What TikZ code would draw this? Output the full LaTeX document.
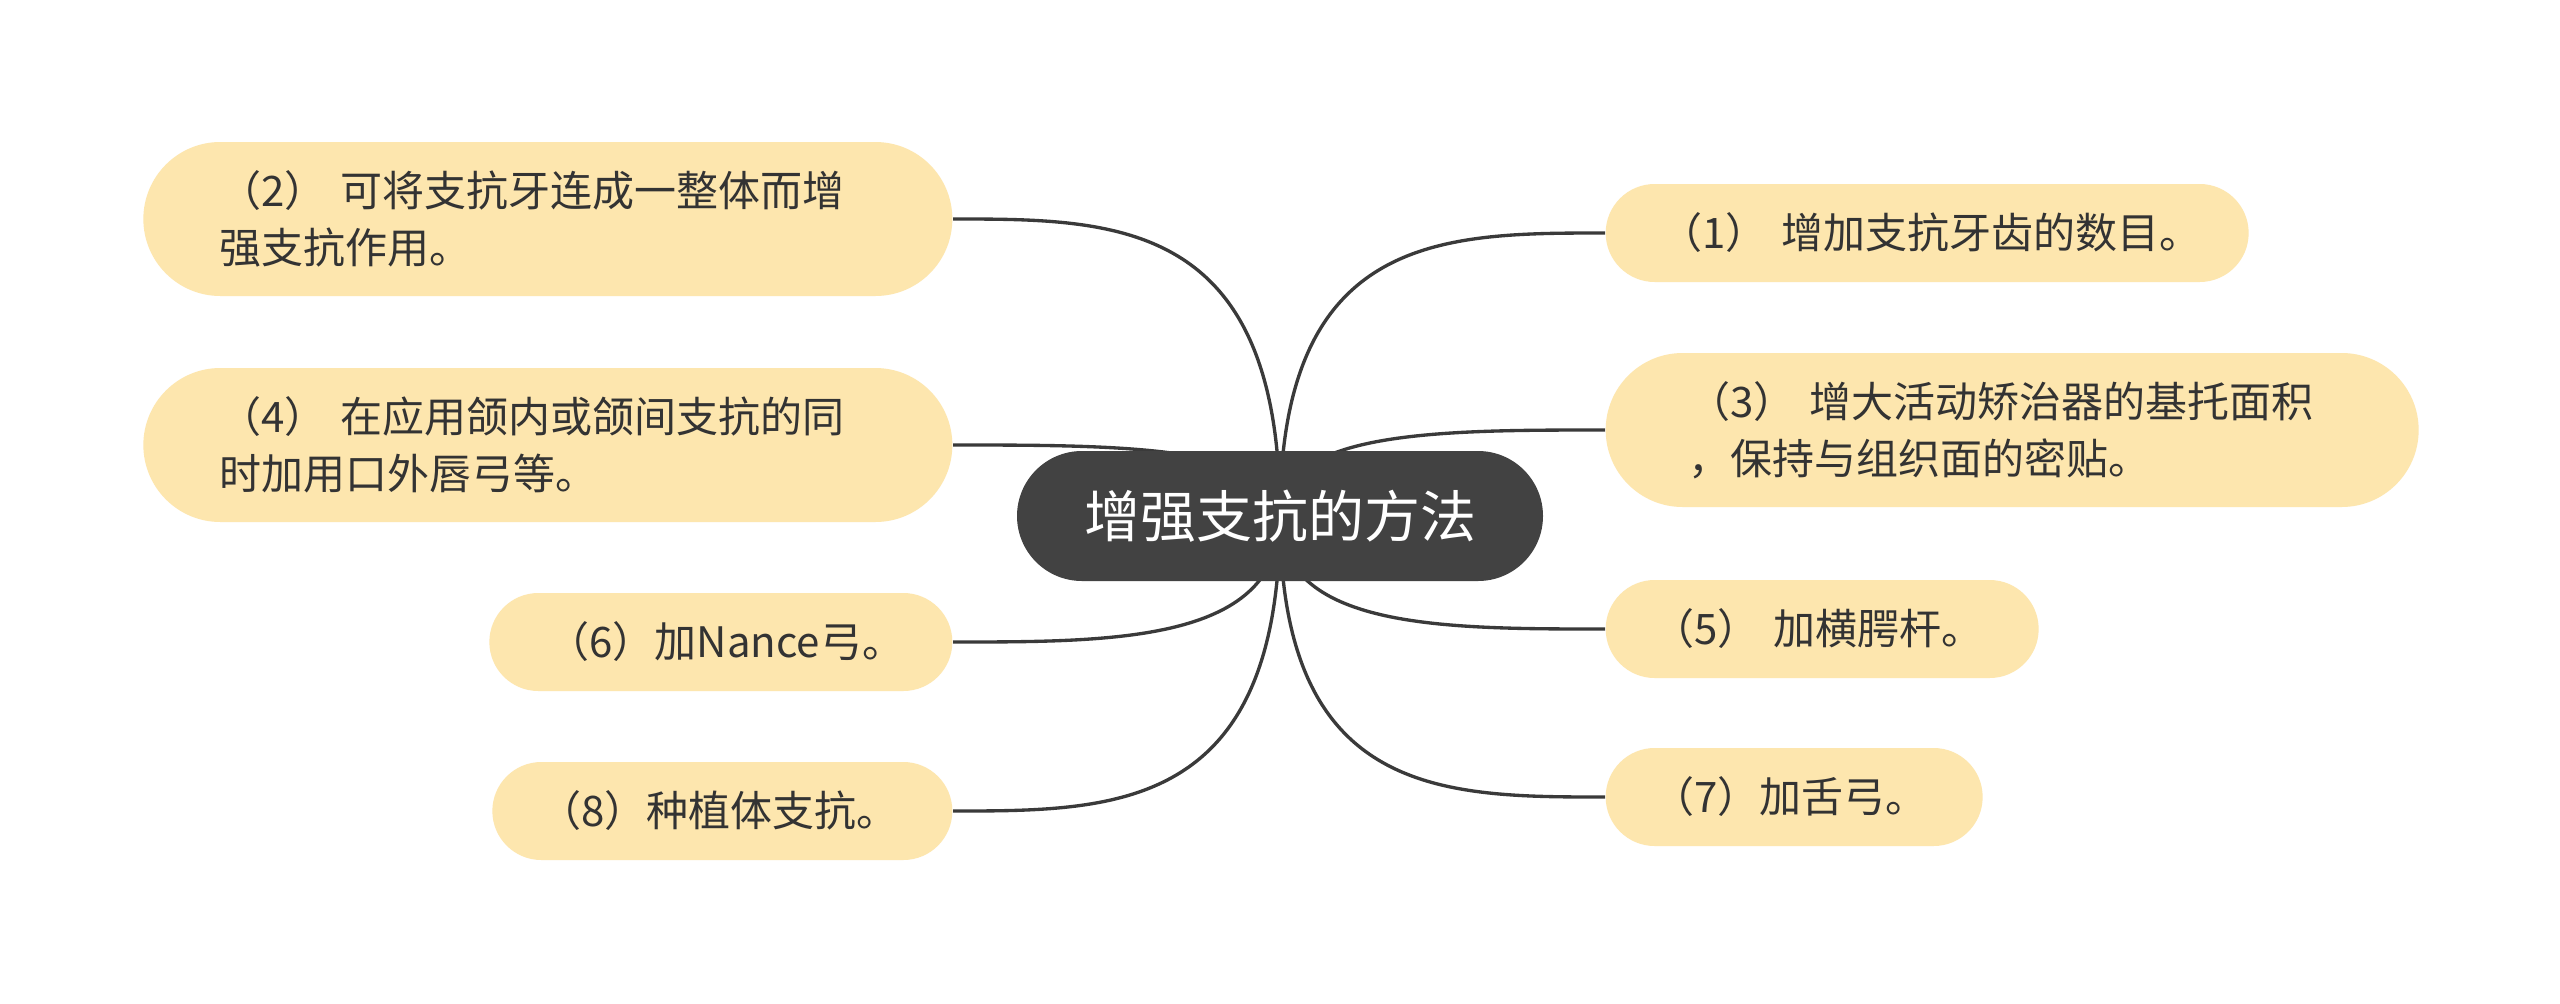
\documentclass[tikz,border=0pt]{standalone}
\usepackage{fontspec}
\newfontfamily\cjkfont{Noto Sans CJK SC}
\usetikzlibrary{calc,backgrounds}
\definecolor{leafbg}{HTML}{FDE6AE}
\definecolor{rootbg}{HTML}{424242}
\definecolor{linkcol}{HTML}{3A3A3A}
\definecolor{inkcol}{HTML}{333333}
\tikzset{
  leaf/.style={fill=leafbg, text=inkcol, align=left, inner ysep=0pt,
    font=\cjkfont\fontsize{12.6pt}{17.1pt}\selectfont},
  oneline/.style={leaf, minimum height=29.4pt, rounded corners=14.7pt},
  twoline/.style={leaf, minimum height=46.2pt, rounded corners=23.1pt},
  branch/.style={draw=linkcol, line width=1pt,
    to path={.. controls (\tikztostart |- \tikztotarget) and ($(\tikztostart |- \tikztotarget)!0.5!(\tikztotarget)$) .. (\tikztotarget)}}
}
\begin{document}
\begin{tikzpicture}[x=0.3pt,y=-0.3pt]
\useasboundingbox (0,0) rectangle (2560,1003);
\node[fill=rootbg, text=white, font=\cjkfont\fontsize{16.8pt}{20pt}\selectfont,
  minimum width=157.8pt, minimum height=39pt, rounded corners=19.5pt] (root) at (1280,516) {增强支抗的方法};
% right side
\node[oneline, anchor=west, inner xsep=16.5pt, text width=159.9pt] (b1) at (1605,233) {（1）~增加支抗牙齿的数目。};
\node[twoline, anchor=west, inner xsep=24.9pt, text width=194.1pt] (b3) at (1605,430) {（3）~增大活动矫治器的基托面积\\，保持与组织面的密贴。};
\node[oneline, anchor=west, inner xsep=14pt, text width=101.9pt] (b5) at (1605,629) {（5）~加横腭杆。};
\node[oneline, anchor=west, inner xsep=14pt, text width=85.1pt] (b7) at (1605,797) {（7）加舌弓。};
% left side
\node[twoline, anchor=east, inner xsep=22.8pt, text width=197.1pt] (b2) at (953,219) {（2）~可将支抗牙连成一整体而增\\强支抗作用。};
\node[twoline, anchor=east, inner xsep=22.8pt, text width=197.1pt] (b4) at (953,445) {（4）~在应用颌内或颌间支抗的同\\时加用口外唇弓等。};
\node[oneline, anchor=east, inner xsep=17.4pt, text width=104.1pt] (b6) at (953,642) {（6）加Nance弓。};
\node[oneline, anchor=east, inner xsep=14pt, text width=110pt] (b8) at (953,811) {（8）种植体支抗。};
\begin{pgfonlayer}{background}
\fill[white] (0,0) rectangle (2560,1003);
\draw[branch] (root.center) to (b1.west);
\draw[branch] (root.center) to (b3.west);
\draw[branch] (root.center) to (b5.west);
\draw[branch] (root.center) to (b7.west);
\draw[branch] (root.center) to (b2.east);
\draw[branch] (root.center) to (b4.east);
\draw[branch] (root.center) to (b6.east);
\draw[branch] (root.center) to (b8.east);
\end{pgfonlayer}
\end{tikzpicture}
\end{document}
